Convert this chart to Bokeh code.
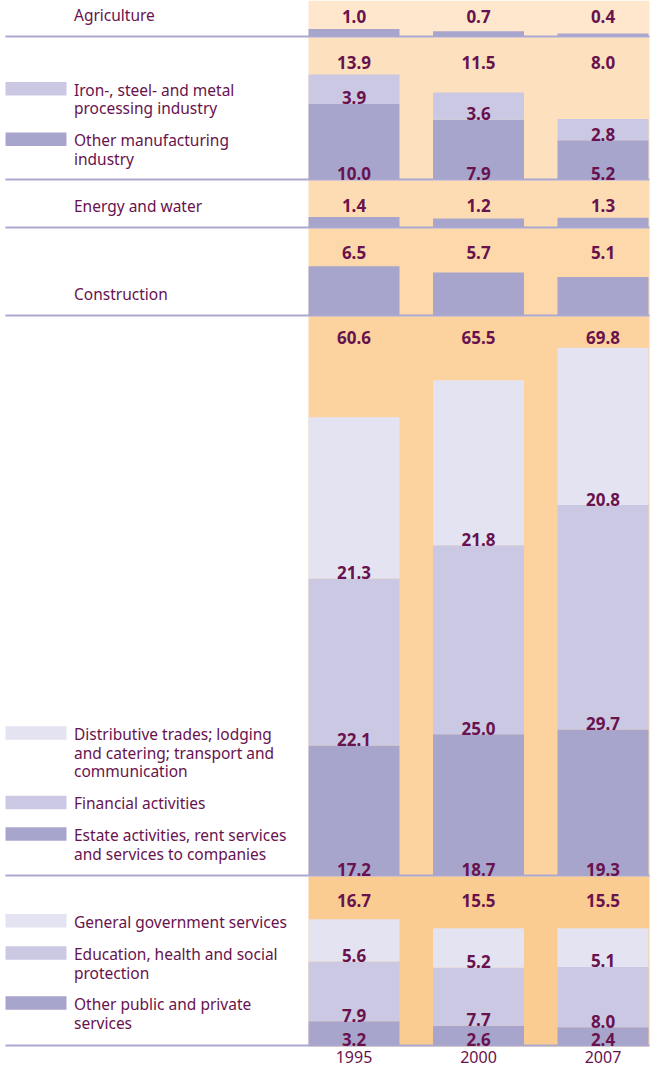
from bokeh.plotting import figure
from bokeh.models import Range1d
from bokeh.embed import file_html
from bokeh.resources import INLINE
from bokeh.core.properties import value

# ---------------- data ----------------
years = ["1995", "2000", "2007"]

agriculture = [1.0, 0.7, 0.4]
other_manufacturing = [10.0, 7.9, 5.2]
iron_steel = [3.9, 3.6, 2.8]
manufacturing_total = [13.9, 11.5, 8.0]
energy_water = [1.4, 1.2, 1.3]
construction = [6.5, 5.7, 5.1]
estate = [17.2, 18.7, 19.3]
financial = [22.1, 25.0, 29.7]
distributive = [21.3, 21.8, 20.8]
services_total = [60.6, 65.5, 69.8]
other_public = [3.2, 2.6, 2.4]
education_health = [7.9, 7.7, 8.0]
general_government = [5.6, 5.2, 5.1]
public_total = [16.7, 15.5, 15.5]

# ---------------- style / layout ----------------
S = 7.56                  # px per percentage point
X0, XSTEP, BAR_W = 361.5, 124.5, 91
BG_L, BG_R = 316, 657
SEP_L, SEP_R = 13, 657
SW_L, SW_R = 13, 74
TXT_X = 81.5
LEFT, WIDTH = 8, 650
TOP_REF, BOTTOM_REF = 14, 1080     # layout rows covered by the canvas
HEIGHT = BOTTOM_REF - TOP_REF
LINE_STEP = 18.7
MID_SHIFT = 6.0           # px from baseline to visual middle of the text
TEXT_C = "#68124e"
FONT = "Noto Sans"
DARK, MID, LIGHT = "#a8a5cd", "#cbc8e3", "#e4e3f1"
SEP_C = "#aaa7d0"
YEAR_BASE = 1076


def Y(py):
    """layout row (px, downwards) -> canvas y value"""
    return (BOTTOM_REF - py) / S


xs = [X0 + i * XSTEP for i in range(len(years))]

panels = [
    dict(top=TOP_REF, bottom=51, bg="#fee7cd",
         segments=[(agriculture, DARK)], seg_labels=False,
         totals=agriculture, total_base=36,
         legend=[(None, ["Agriculture"], 34.5)]),
    dict(top=51, bottom=194, bg="#fde0bd",
         segments=[(other_manufacturing, DARK), (iron_steel, MID)], seg_labels=True,
         totals=manufacturing_total, total_base=82,
         legend=[(MID, ["Iron-, steel- and metal", "processing industry"], 109),
                 (DARK, ["Other manufacturing", "industry"], 159.5)]),
    dict(top=194, bottom=242, bg="#fddcb4",
         segments=[(energy_water, DARK)], seg_labels=False,
         totals=energy_water, total_base=225,
         legend=[(None, ["Energy and water"], 225.5)]),
    dict(top=242, bottom=330, bg="#fcd8aa",
         segments=[(construction, DARK)], seg_labels=False,
         totals=construction, total_base=271.7,
         legend=[(None, ["Construction"], 313.3)]),
    dict(top=330, bottom=890, bg="#fcd39e",
         segments=[(estate, DARK), (financial, MID), (distributive, LIGHT)], seg_labels=True,
         totals=services_total, total_base=357,
         legend=[(LIGHT, ["Distributive trades; lodging", "and catering; transport and",
                          "communication"], 753.3),
                 (MID, ["Financial activities"], 822.7),
                 (DARK, ["Estate activities, rent services", "and services to companies"], 854.3)]),
    dict(top=890, bottom=1060, bg="#fbcc91",
         segments=[(other_public, DARK), (education_health, MID), (general_government, LIGHT)],
         seg_labels=True,
         totals=public_total, total_base=920,
         legend=[(LIGHT, ["General government services"], 941),
                 (MID, ["Education, health and social", "protection"], 973.3),
                 (DARK, ["Other public and private", "services"], 1023.3)]),
]

p = figure(width=WIDTH, height=HEIGHT,
           x_range=Range1d(LEFT, LEFT + WIDTH),
           y_range=Range1d(Y(BOTTOM_REF), Y(TOP_REF)),
           output_backend="svg", toolbar_location=None, min_border=0,
           x_axis_location=None, y_axis_location=None,
           outline_line_color=None)
p.grid.visible = False
p.background_fill_color = "white"
p.border_fill_color = "white"

value_style = dict(text_font=value(FONT), text_font_size="17px", text_font_style="bold",
                   text_color=TEXT_C, text_align="center", text_baseline="middle")
label_style = dict(text_font=value(FONT), text_font_size="15.5px",
                   text_color=TEXT_C, text_align="left", text_baseline="middle")

# panel backgrounds
p.quad(left=[BG_L] * len(panels), right=[BG_R] * len(panels),
       top=[Y(pan["top"]) for pan in panels], bottom=[Y(pan["bottom"]) for pan in panels],
       fill_color=[pan["bg"] for pan in panels], line_color=None)

for pan in panels:
    zero = Y(pan["bottom"] - 1)        # value 0 of this panel

    # stacked bars
    bottoms = [0.0] * len(years)
    for vals, col in pan["segments"]:
        tops = [b + v for b, v in zip(bottoms, vals)]
        p.vbar(x=xs, width=BAR_W, bottom=[zero + b for b in bottoms],
               top=[zero + t for t in tops], fill_color=col, line_color=None)
        bottoms = tops

    # separator line
    p.quad(left=[SEP_L], right=[SEP_R], top=[Y(pan["bottom"] - 2)], bottom=[Y(pan["bottom"])],
           fill_color=SEP_C, line_color=None)

    # legend swatches
    for col, lines, b0 in pan["legend"]:
        if col is not None:
            p.quad(left=[SW_L], right=[SW_R], top=[Y(b0 - 13.5)], bottom=[Y(b0)],
                   fill_color=col, line_color=None)

# texts on top
for pan in panels:
    zero = Y(pan["bottom"] - 1)
    if pan["seg_labels"]:
        bottoms = [0.0] * len(years)
        for vals, col in pan["segments"]:
            p.text(x=xs, y=[zero + b + MID_SHIFT / S for b in bottoms],
                   text=[f"{v:.1f}" for v in vals], **value_style)
            bottoms = [b + v for b, v in zip(bottoms, vals)]

    p.text(x=xs, y=[Y(pan["total_base"] - MID_SHIFT)] * len(xs),
           text=[f"{v:.1f}" for v in pan["totals"]], **value_style)

    for col, lines, b0 in pan["legend"]:
        p.text(x=[TXT_X] * len(lines),
               y=[Y(b0 + k * LINE_STEP - MID_SHIFT) for k in range(len(lines))],
               text=lines, **label_style)

# year labels
p.text(x=xs, y=[Y(YEAR_BASE - MID_SHIFT)] * len(xs), text=years,
       text_font=value(FONT), text_font_size="16px",
       text_color=TEXT_C, text_align="center", text_baseline="middle")

open("out.html", "w").write(file_html(p, INLINE))
